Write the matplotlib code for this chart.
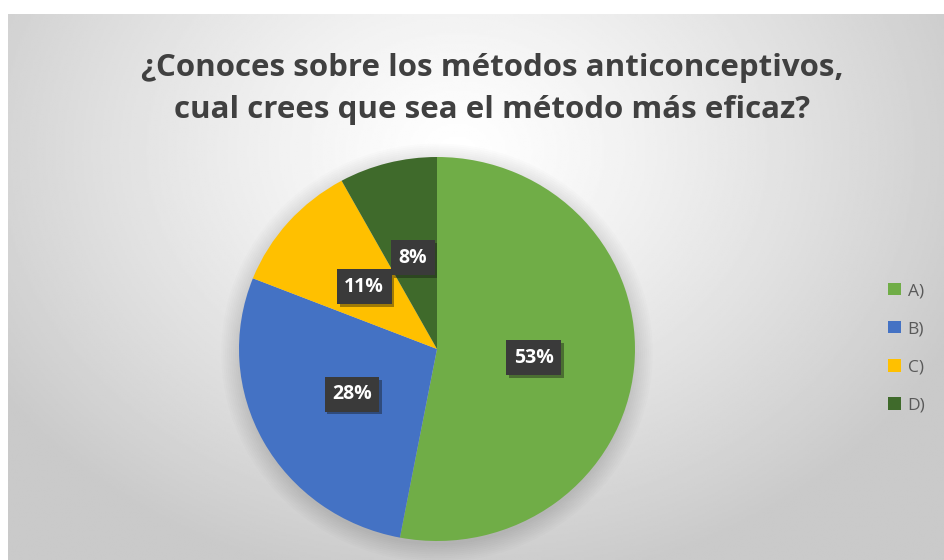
import numpy as np
import matplotlib
matplotlib.use("Agg")
import matplotlib.pyplot as plt
from matplotlib.patches import Patch
import matplotlib.patheffects as pe

# datos del grafico
categorias = ["A)", "B)", "C)", "D)"]
porcentajes = [53, 28, 11, 8]
colores = ["#70AD47", "#4472C4", "#FFC000", "#3F6A2B"]
titulo = "¿Conoces sobre los métodos anticonceptivos,\ncual crees que sea el método más eficaz?"

W, H = 944, 560
fig = plt.figure(figsize=(W / 100, H / 100), dpi=100)
fig.patch.set_facecolor("white")

# fondo con degradado radial (blanco en el centro, gris en los bordes)
bg = fig.add_axes([8 / W, 0, (W - 8) / W, (H - 14) / H])
yy, xx = np.mgrid[0:1:300j, 0:1:500j]
d = np.sqrt(((xx - 0.48) / 0.62) ** 2 + ((yy - 0.25) / 0.85) ** 2)
d = np.clip(d / 0.95, 0, 1)
gris = 1.0 - 0.21 * d ** 1.2
bg.imshow(gris, cmap="gray", vmin=0, vmax=1, aspect="auto", extent=(0, 1, 1, 0))
bg.set_xlim(0, 1)
bg.set_ylim(1, 0)
bg.axis("off")

# pastel
cx, cy, rx, ry = 437, 211, 198, 192
ax = fig.add_axes([(cx - rx) / W, (cy - ry) / H, 2 * rx / W, 2 * ry / H])
for k in range(10):
    r = 1.0 + 0.01 * k
    ax.add_patch(plt.Circle((0, -0.02), r, color="black", alpha=0.012, lw=0, clip_on=False))

wedges = ax.pie(porcentajes, colors=colores, startangle=90, counterclock=False,
                radius=1.0, wedgeprops=dict(linewidth=0))[0]
ang0 = 90.0
total = sum(porcentajes)
for w, p in zip(wedges, porcentajes):
    medio = np.deg2rad(ang0 - p / total * 360 / 2)
    ang0 -= p / total * 360
    t = ax.text(0.49 * np.cos(medio), 0.49 * np.sin(medio), f"{p}%", ha="center", va="center",
                color="white", fontsize=14, fontweight="bold", family="Open Sans",
                bbox=dict(boxstyle="square,pad=0.38", facecolor="#3a3a3a", edgecolor="none"))
    t.get_bbox_patch().set_path_effects([pe.SimplePatchShadow(offset=(2, -2), alpha=0.4),
                                         pe.Normal()])
ax.set_aspect("auto")
ax.set_xlim(-1, 1)
ax.set_ylim(-1, 1)
ax.axis("off")

fig.text(0.5 + 20 / W, 1 - 89 / H, titulo, ha="center", va="center", fontsize=22.5,
         fontweight="bold", family="Open Sans", color="#404040", linespacing=1.5)

manijas = [Patch(facecolor=c, edgecolor="none") for c in colores]
leg = fig.legend(manijas, categorias, loc="center left", bbox_to_anchor=(872 / W, 1 - 348 / H),
                 frameon=False, handlelength=0.75, handleheight=0.75,
                 handletextpad=0.4, labelspacing=1.25, prop=dict(family="Open Sans", size=12.5))
for t in leg.get_texts():
    t.set_color("#595959")

fig.savefig("out.png", dpi=100)
